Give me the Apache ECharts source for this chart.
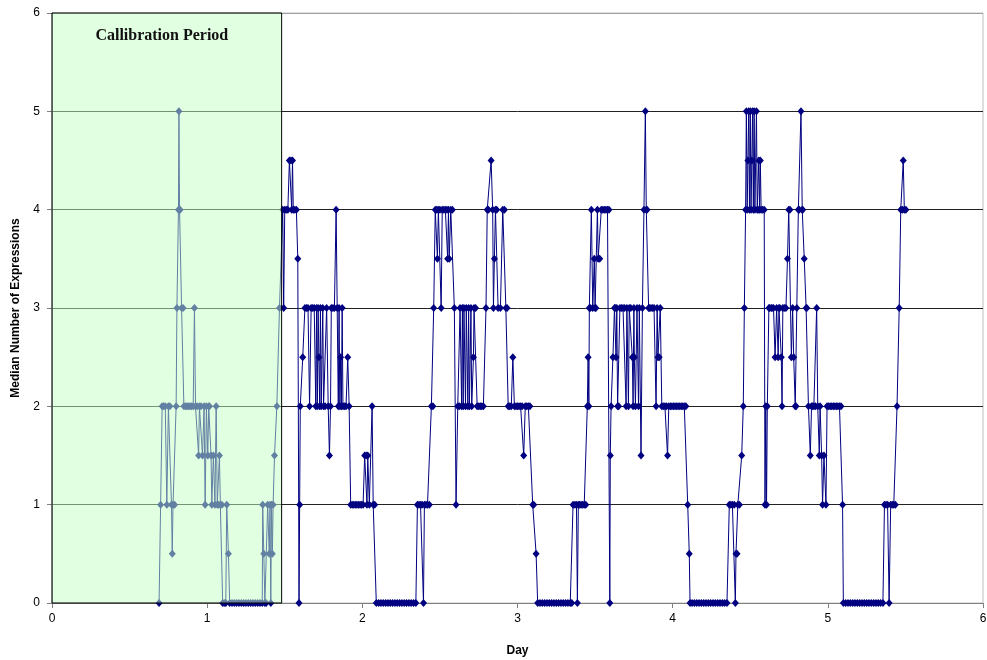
<!DOCTYPE html>
<html>
<head>
<meta charset="utf-8">
<script src="https://cdn.jsdelivr.net/npm/echarts@6/dist/echarts.min.js"></script>
<style>
  html, body { margin: 0; padding: 0; background: #fff; }
  #chart { width: 987px; height: 660px; }
</style>
</head>
<body>
<div id="chart"></div>
<script>
// axis ticks
const dayTicks = [0, 1, 2, 3, 4, 5, 6]
const medianTicks = [0, 1, 2, 3, 4, 5, 6]

// calibration window (days)
const calibrationStart = 0
const calibrationEnd = 1.48
const calibrationLabel = 'Callibration Period'

// [day, median number of expressions]
const readings = [
  [0.69,0],[0.70,1],[0.71,2],[0.72,2],[0.73,2],[0.74,1],[0.75,2],[0.76,2],[0.77,1],[0.775,0.5],[0.78,1],[0.79,1],
  [0.80,2],[0.805,3],[0.815,4],[0.818,5],[0.822,4],[0.826,4],[0.835,3],[0.845,3],[0.85,2],[0.86,2],[0.87,2],[0.88,2],
  [0.89,2],[0.90,2],[0.91,2],[0.918,3],[0.925,2],[0.935,2],[0.945,1.5],[0.95,2],[0.96,2],[0.97,1.5],[0.98,2],[0.987,1],
  [0.995,2],[1.004,1.5],[1.01,2],[1.015,2],[1.025,1.5],[1.03,1],[1.04,1.5],[1.05,1],[1.058,2],[1.065,1],[1.072,1],
  [1.079,1.5],[1.085,1],[1.095,1],[1.10,0],[1.11,0],[1.12,0],[1.126,1],[1.137,0.5],[1.145,0],[1.16,0],[1.175,0],
  [1.19,0],[1.205,0],[1.22,0],[1.235,0],[1.25,0],[1.265,0],[1.28,0],[1.295,0],[1.31,0],[1.325,0],[1.34,0],[1.355,0],
  [1.358,1],[1.365,0.5],[1.372,0],[1.38,0],[1.39,1],[1.40,0.5],[1.405,1],[1.41,0],[1.415,1],[1.42,0.5],[1.425,1],
  [1.434,1.5],[1.449,2],[1.466,3],[1.487,4],[1.493,3],[1.50,4],[1.51,4],[1.52,4],[1.53,4.5],[1.54,4.5],[1.545,4],
  [1.55,4.5],[1.555,4],[1.565,4],[1.575,4],[1.584,3.5],[1.592,0],[1.596,1],[1.60,2],[1.616,2.5],[1.63,3],[1.64,3],
  [1.65,3],[1.66,2],[1.67,3],[1.68,3],[1.69,3],[1.70,2],[1.705,3],[1.71,2],[1.715,3],[1.72,2.5],[1.725,2],[1.73,3],
  [1.735,2],[1.745,3],[1.75,2],[1.76,2],[1.77,3],[1.78,2],[1.788,1.5],[1.795,2],[1.80,3],[1.81,3],[1.82,3],[1.831,4],
  [1.838,3],[1.845,2],[1.85,3],[1.855,2],[1.86,2.5],[1.865,2],[1.87,3],[1.875,2],[1.885,2],[1.895,2],[1.906,2.5],
  [1.915,2],[1.925,1],[1.935,1],[1.945,1],[1.955,1],[1.965,1],[1.975,1],[1.985,1],[1.995,1],[2.005,1],[2.015,1.5],
  [2.025,1.5],[2.03,1],[2.035,1.5],[2.045,1],[2.063,2],[2.07,1],[2.08,1],[2.09,0],[2.105,0],[2.12,0],[2.135,0],
  [2.15,0],[2.165,0],[2.18,0],[2.195,0],[2.21,0],[2.225,0],[2.24,0],[2.255,0],[2.27,0],[2.285,0],[2.30,0],[2.315,0],
  [2.33,0],[2.345,0],[2.355,1],[2.365,1],[2.375,1],[2.385,1],[2.394,0],[2.40,1],[2.41,1],[2.42,1],[2.432,1],[2.445,2],
  [2.455,2],[2.46,3],[2.47,4],[2.48,4],[2.484,3.5],[2.49,4],[2.50,4],[2.508,3],[2.515,4],[2.525,4],[2.535,4],[2.545,4],
  [2.55,3.5],[2.555,4],[2.56,3.5],[2.57,4],[2.58,4],[2.593,3],[2.604,1],[2.615,2],[2.625,2],[2.63,3],[2.64,2],[2.645,3],
  [2.65,2],[2.655,3],[2.665,2],[2.67,3],[2.68,2],[2.685,3],[2.69,2],[2.70,3],[2.705,2],[2.716,2.5],[2.72,3],[2.73,3],
  [2.74,2],[2.75,2],[2.76,2],[2.77,2],[2.78,2],[2.797,3],[2.805,4],[2.813,4],[2.83,4.5],[2.84,4],[2.845,3],[2.851,3.5],
  [2.858,4],[2.866,4],[2.875,3],[2.89,3],[2.905,4],[2.916,4],[2.925,3],[2.933,3],[2.94,2],[2.95,2],[2.96,2],[2.97,2.5],
  [2.98,2],[2.99,2],[3.00,2],[3.01,2],[3.02,2],[3.03,2],[3.04,1.5],[3.05,2],[3.06,2],[3.07,2],[3.08,2],[3.098,1],
  [3.105,1],[3.12,0.5],[3.13,0],[3.145,0],[3.16,0],[3.175,0],[3.19,0],[3.205,0],[3.22,0],[3.235,0],[3.25,0],[3.265,0],
  [3.28,0],[3.295,0],[3.31,0],[3.325,0],[3.34,0],[3.35,0],[3.358,1],[3.37,1],[3.38,1],[3.386,0],[3.392,1],[3.40,1],
  [3.41,1],[3.42,1],[3.43,1],[3.44,1],[3.45,2],[3.455,2.5],[3.46,2],[3.463,3],[3.47,3],[3.476,4],[3.485,3],[3.495,3.5],
  [3.50,3],[3.505,3],[3.515,4],[3.52,3.5],[3.53,3.5],[3.54,4],[3.55,4],[3.56,4],[3.57,4],[3.58,4],[3.59,4],[3.595,0],
  [3.598,1.5],[3.603,2],[3.615,2.5],[3.625,3],[3.63,3],[3.635,2.5],[3.64,3],[3.645,2],[3.652,2],[3.66,3],[3.67,3],
  [3.68,3],[3.69,3],[3.70,2],[3.705,3],[3.715,2],[3.72,3],[3.73,3],[3.74,2.5],[3.745,2],[3.75,3],[3.753,2.5],[3.76,2],
  [3.77,3],[3.78,2],[3.785,3],[3.796,1.5],[3.805,3],[3.815,4],[3.824,5],[3.83,4],[3.835,4],[3.845,3],[3.85,3],[3.86,3],
  [3.87,3],[3.88,3],[3.893,2],[3.90,3],[3.905,2.5],[3.913,2.5],[3.92,3],[3.93,2],[3.94,2],[3.95,2],[3.96,2],[3.967,1.5],
  [3.975,2],[3.985,2],[3.995,2],[4.005,2],[4.015,2],[4.025,2],[4.035,2],[4.045,2],[4.055,2],[4.065,2],[4.075,2],[4.085,2],
  [4.097,1],[4.107,0.5],[4.112,0],[4.125,0],[4.14,0],[4.155,0],[4.17,0],[4.185,0],[4.20,0],[4.215,0],[4.23,0],[4.245,0],
  [4.26,0],[4.275,0],[4.29,0],[4.305,0],[4.32,0],[4.335,0],[4.35,0],[4.365,1],[4.375,1],[4.385,1],[4.397,1],[4.404,0],
  [4.408,0.5],[4.415,0.5],[4.42,1],[4.43,1],[4.445,1.5],[4.455,2],[4.462,3],[4.47,4],[4.475,5],[4.48,4],[4.485,4.5],
  [4.49,5],[4.495,4],[4.50,5],[4.505,4],[4.51,4.5],[4.515,5],[4.52,4],[4.525,5],[4.53,4],[4.54,5],[4.545,4],[4.55,4],
  [4.555,4.5],[4.56,4],[4.565,4.5],[4.57,4],[4.58,4],[4.59,4],[4.595,1],[4.60,2],[4.605,1],[4.61,2],[4.62,3],[4.625,3],
  [4.635,3],[4.64,3],[4.65,3],[4.66,2.5],[4.67,3],[4.68,2.5],[4.685,3],[4.69,3],[4.70,2.5],[4.705,2],[4.71,3],[4.72,3],
  [4.73,3],[4.74,3.5],[4.748,4],[4.756,4],[4.765,2.5],[4.773,3],[4.78,2.5],[4.79,2],[4.795,2],[4.80,3],[4.81,4],[4.816,4],
  [4.827,5],[4.835,4],[4.838,4],[4.848,3.5],[4.86,3],[4.865,3],[4.875,2],[4.887,1.5],[4.895,2],[4.90,2],[4.91,2],[4.92,2],
  [4.928,3],[4.935,2],[4.945,1.5],[4.95,2],[4.96,1.5],[4.966,1],[4.975,1.5],[4.988,1],[4.995,2],[5.005,2],[5.015,2],
  [5.025,2],[5.035,2],[5.045,2],[5.055,2],[5.065,2],[5.075,2],[5.085,2],[5.095,1],[5.10,0],[5.115,0],[5.13,0],[5.145,0],
  [5.16,0],[5.175,0],[5.19,0],[5.205,0],[5.22,0],[5.235,0],[5.25,0],[5.265,0],[5.28,0],[5.295,0],[5.31,0],[5.325,0],
  [5.34,0],[5.355,0],[5.365,1],[5.375,1],[5.385,1],[5.395,0],[5.405,1],[5.415,1],[5.425,1],[5.435,1],[5.446,2],[5.46,3],
  [5.47,4],[5.48,4],[5.486,4.5],[5.493,4],[5.503,4]
]

const navy = '#000080'
const sans = 'Liberation Sans, Arial, sans-serif'

const option = {
  animation: false,
  backgroundColor: '#fff',
  grid: {
    left: 52,
    right: 4,
    top: 13,
    bottom: 57,
    outerBoundsMode: 'none',
    containLabel: false,
    show: true,
    borderColor: '#c0c0c0',
    borderWidth: 1,
  },
  xAxis: {
    type: 'value',
    min: dayTicks[0],
    max: dayTicks[dayTicks.length - 1],
    interval: 1,
    name: 'Day',
    nameLocation: 'middle',
    nameGap: 42,
    nameTextStyle: { fontFamily: sans, fontWeight: 'bold', fontSize: 12, color: '#000' },
    axisLine: { show: true, lineStyle: { color: '#808080', width: 1 } },
    axisTick: { show: true, length: 5, lineStyle: { color: '#808080' } },
    axisLabel: { fontFamily: sans, fontSize: 12, color: '#000', margin: 10 },
    splitLine: { show: false },
  },
  yAxis: {
    type: 'value',
    min: medianTicks[0],
    max: medianTicks[medianTicks.length - 1],
    interval: 1,
    name: 'Median Number of Expressions',
    nameLocation: 'middle',
    nameGap: 30,
    nameTextStyle: { fontFamily: sans, fontWeight: 'bold', fontSize: 12, color: '#000' },
    axisLine: { show: true, lineStyle: { color: '#808080', width: 1 } },
    axisTick: { show: true, length: 5, lineStyle: { color: '#808080' } },
    axisLabel: { fontFamily: sans, fontSize: 12, color: '#000', margin: 12 },
    splitLine: {
      show: true,
      lineStyle: { color: ['#808080', '#222', '#222', '#222', '#222', '#222', '#a0a0a0'], width: 1 },
    },
  },
  series: [
    {
      name: 'median',
      type: 'line',
      z: 2,
      data: readings,
      symbol: 'diamond',
      symbolSize: [7, 8],
      showSymbol: true,
      lineStyle: { color: navy, width: 1 },
      itemStyle: { color: navy, borderWidth: 0 },
      emphasis: { disabled: true },
      silent: true,
    },
    {
      name: 'calibration',
      type: 'line',
      z: 5,
      data: [],
      silent: true,
      markArea: {
        z: 10,
        silent: true,
        itemStyle: {
          color: 'rgba(196,255,196,0.5)',
          borderColor: '#000',
          borderWidth: 1,
        },
        label: {
          show: true,
          position: 'insideTop',
          distance: 15,
          formatter: calibrationLabel,
          fontFamily: 'Liberation Serif, Times New Roman, serif',
          fontWeight: 'bold',
          fontSize: 16,
          color: '#111',
          offset: [-5, 0],
        },
        emphasis: { disabled: true },
        data: [[
          { xAxis: calibrationStart, yAxis: medianTicks[0] },
          { xAxis: calibrationEnd, yAxis: medianTicks[medianTicks.length - 1] },
        ]],
      },
    },
  ],
}

const myChart = echarts.init(document.getElementById('chart'))
myChart.setOption(option)
</script>
</body>
</html>
